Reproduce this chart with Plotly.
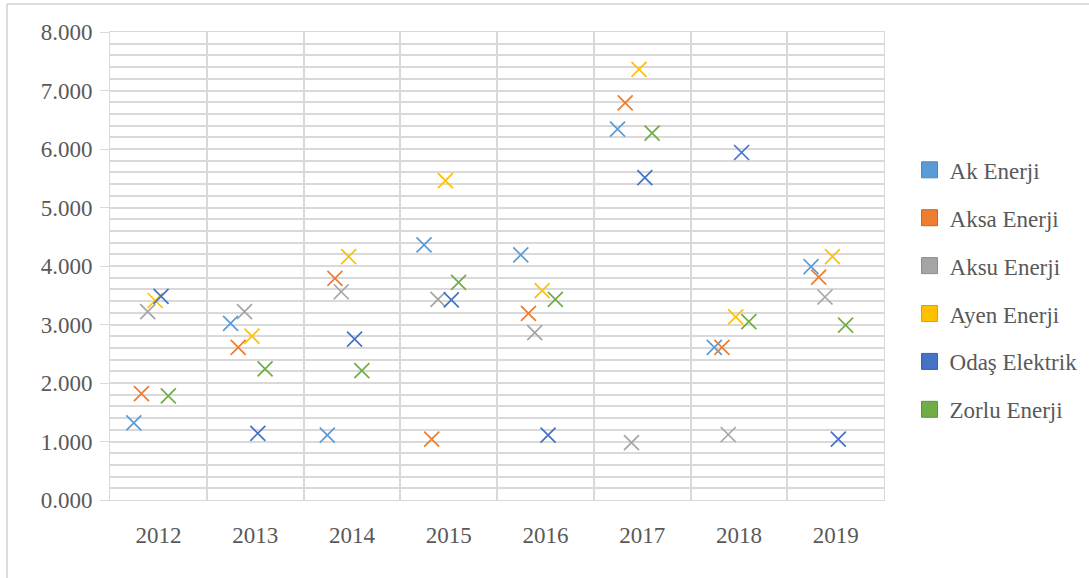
import plotly.graph_objects as go

years = ["2012", "2013", "2014", "2015", "2016", "2017", "2018", "2019"]
series_names = ["Ak Enerji", "Aksa Enerji", "Aksu Enerji", "Ayen Enerji", "Odaş Elektrik", "Zorlu Enerji"]

ak_enerji = [1.32, 3.02, 1.11, 4.36, 4.19, 6.34, 2.61, 3.99]
aksa_enerji = [1.82, 2.61, 3.79, 1.04, 3.19, 6.79, 2.61, 3.81]
aksu_enerji = [3.22, 3.22, 3.56, 3.43, 2.86, 0.98, 1.12, 3.47]
ayen_enerji = [3.41, 2.80, 4.16, 5.46, 3.58, 7.36, 3.13, 4.16]
odas_elektrik = [3.48, 1.14, 2.75, 3.42, 1.11, 5.51, 5.94, 1.04]
zorlu_enerji = [1.78, 2.24, 2.21, 3.72, 3.43, 6.27, 3.05, 2.99]

series_values = [ak_enerji, aksa_enerji, aksu_enerji, ayen_enerji, odas_elektrik, zorlu_enerji]

# ---- styling ----
colors = ["#5B9BD5", "#ED7D31", "#A5A5A5", "#FFC000", "#4472C4", "#70AD47"]
edge_colors = ["#4a86bd", "#c8682a", "#8c8c8c", "#d9a300", "#3a61a8", "#5e933b"]
offsets = [-0.254, -0.175, -0.11, -0.033, 0.028, 0.103]  # cluster spread within a category
FONT = "Liberation Serif, Times New Roman, serif"
TXT = "#595959"
GRID = "#d9d9d9"
FS = 23

fig = go.Figure()
for name, vals, col, off in zip(series_names, series_values, colors, offsets):
    fig.add_trace(go.Scatter(
        x=[i + off for i in range(len(years))], y=vals, mode="markers", name=name,
        showlegend=False,
        marker=dict(symbol="x-thin-open", size=15, color=col, line=dict(color=col, width=1.7)),
        hoverinfo="x+y+name",
    ))
for name, col, ec in zip(series_names, colors, edge_colors):
    fig.add_trace(go.Scatter(
        x=[None], y=[None], mode="markers", name=name, legendgroup=name,
        marker=dict(symbol="square", size=17, color=col, line=dict(color=ec, width=1)),
    ))

fig.update_layout(
    width=1089, height=578,
    margin=dict(l=110, r=205, t=32, b=78, autoexpand=False),
    paper_bgcolor="white", plot_bgcolor="white",
    font=dict(family=FONT, color=TXT, size=FS),
    legend=dict(x=1.033, xanchor="left", y=0.449, yanchor="middle",
                font=dict(family=FONT, size=FS, color=TXT),
                traceorder="grouped", tracegroupgap=15, itemwidth=30,
                bgcolor="rgba(0,0,0,0)"),
    shapes=[
        dict(type="line", xref="paper", yref="paper", x0=-0.1331, x1=1.4, y0=1.0598, y1=1.0598,
             line=dict(color="#d0d0d0", width=1.5)),
        dict(type="line", xref="paper", yref="paper", x0=-0.1331, x1=-0.1331, y0=-0.3, y1=1.0598,
             line=dict(color="#d0d0d0", width=1.5)),
    ],
)
fig.update_xaxes(
    range=[-0.5, 7.5], tickvals=list(range(len(years))), ticktext=years,
    showgrid=False, zeroline=False, showline=True, linecolor=GRID, mirror=True,
    ticks="", ticklabelstandoff=14,
    minor=dict(tick0=-0.5, dtick=1, showgrid=True, gridcolor=GRID, gridwidth=1.5, ticks=""),
    tickfont=dict(family=FONT, size=FS, color=TXT),
)
fig.update_yaxes(
    range=[0, 8], dtick=1, tickformat=".3f",
    showgrid=True, gridcolor=GRID, gridwidth=1.5, zeroline=False,
    showline=True, linecolor=GRID, mirror=True,
    ticks="outside", ticklen=9, tickcolor=GRID, ticklabelstandoff=3,
    minor=dict(dtick=0.2, showgrid=True, gridcolor=GRID, gridwidth=1.5, ticks=""),
    tickfont=dict(family=FONT, size=FS, color=TXT),
)

fig.write_html("out.html", config={"displayModeBar": False},
               post_script="document.body.style.margin='0px';")
